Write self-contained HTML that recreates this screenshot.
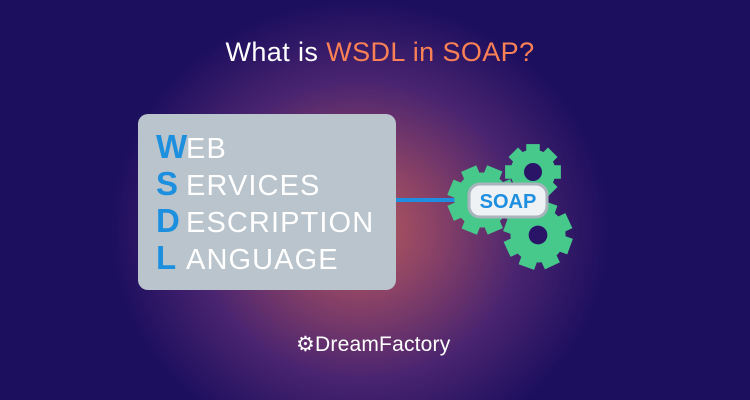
<!DOCTYPE html>
<html><head><style>
body{margin:0;width:750px;height:400px;overflow:hidden;font-family:"Liberation Sans",sans-serif;}
.bg{position:absolute;left:0;top:0;width:750px;height:400px;background:radial-gradient(ellipse 250px 230px at 360px 230px,#b65a5c 0%,#8a4266 30%,#4a2470 65%,#1c0f5e 100%);}
.t{position:absolute;top:37px;width:750px;text-align:center;font-size:27px;color:#fff;letter-spacing:0.4px;padding-left:10px;box-sizing:border-box}
.t span{color:#fa8055}
.box{position:absolute;left:138px;top:114px;width:258px;height:176px;background:#b9c4cc;border-radius:10px;}
.row{position:absolute;left:18px;font-size:29px;color:#fff;white-space:nowrap;letter-spacing:1.1px}
.row b{color:#1d8fdf;font-size:33px;display:inline-block;width:30px;letter-spacing:0}
.f{position:absolute;top:332px;left:296px;font-size:21px;color:#fff;letter-spacing:0.2px}
</style></head><body>
<div class="bg"></div>
<div class="t">What is <span>WSDL in SOAP?</span></div>
<div class="box">
<div class="row" style="top:14px"><b>W</b>EB</div>
<div class="row" style="top:51px"><b>S</b>ERVICES</div>
<div class="row" style="top:88px"><b>D</b>ESCRIPTION</div>
<div class="row" style="top:125px"><b>L</b>ANGUAGE</div>
</div>
<svg style="position:absolute;left:0;top:0" width="750" height="400">
<defs>
<g id="g"><circle r="25" fill="#47c98c"/>
<g fill="#47c98c">
<rect x="-7.5" y="-31" width="15" height="62"/>
<rect x="-7.5" y="-31" width="15" height="62" transform="rotate(45)"/>
<rect x="-7.5" y="-31" width="15" height="62" transform="rotate(90)"/>
<rect x="-7.5" y="-31" width="15" height="62" transform="rotate(135)"/>
</g></g>
</defs>
<line x1="396" y1="200" x2="455" y2="200" stroke="#1e8fe0" stroke-width="4"/>
<g transform="translate(533,172) scale(0.9)"><use href="#g"/><circle r="10" fill="#2a1468"/></g>
<g transform="translate(538,235) scale(1.1) rotate(20)"><use href="#g"/><circle r="8.5" fill="#2a1468"/></g>
<g transform="translate(482,200) scale(1.1) rotate(22)"><use href="#g"/></g>
<rect x="469" y="184" width="78" height="33" rx="11" fill="#eef2f4" stroke="#aab4bc" stroke-width="3"/>
<text x="508" y="208" text-anchor="middle" font-family="Liberation Sans" font-weight="bold" font-size="20" fill="#1e8fe0">SOAP</text>
</svg>
<div class="f">⚙DreamFactory</div>
</body></html>
